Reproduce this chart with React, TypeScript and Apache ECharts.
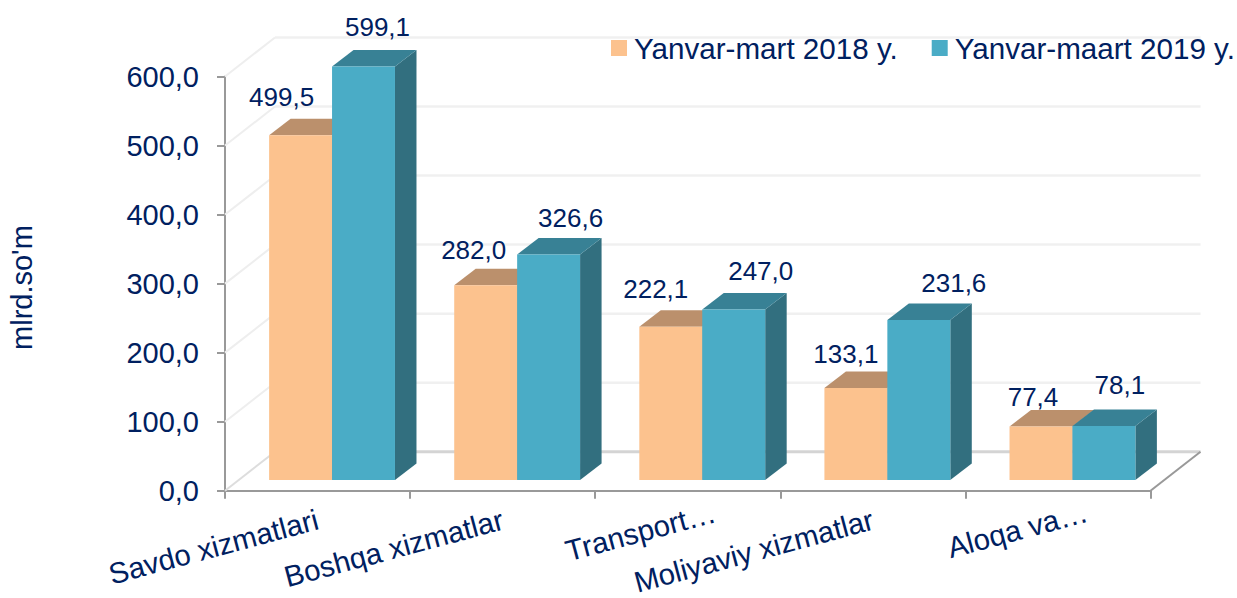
import React, { useEffect, useRef } from "react";
import * as echarts from "echarts";

const categories = ["Savdo xizmatlari", "Boshqa xizmatlar", "Transport…", "Moliyaviy xizmatlar", "Aloqa va…"];
const seriesNames = ["Yanvar-mart 2018 y.", "Yanvar-maart 2019 y."];
const values2018 = [499.5, 282.0, 222.1, 133.1, 77.4];
const values2019 = [599.1, 326.6, 247.0, 231.6, 78.1];
const axisTicks = [0, 100, 200, 300, 400, 500, 600];

const TEXT = "#002060";
const FONT = "Liberation Sans, Arial, sans-serif";
const fmt = (v: number) => v.toFixed(1).replace(".", ",");

const DEPTH_X = 50, DEPTH_Y = 39;
const BAR_DX = 21.5, BAR_DY = 16.5;
const BASE_DX = 14.5, BASE_DY = 10.7;

const labelOffsets = [
  [[-19, -38], [-12, -35], [-15, -38], [-10, -34], [-8, -30]],
  [[14, -39], [22, -37], [27, -38], [35, -37], [16, -41]],
];
const palettes = [
  { front: "#FCC28E", top: "#BB906C", side: "#BB906C" },
  { front: "#4AACC6", top: "#388195", side: "#326F7F" },
];
const labelPadRight: Record<number, number> = { 2: 98, 4: 84 };

function barRenderer(idx: number) {
  return (params: any, api: any) => {
    const cat = api.value(0);
    const val = api.value(1);
    const top = api.coord([cat, val]);
    const base = api.coord([cat, 0]);
    const w = api.size([1, 0])[0] * 0.34;
    const x0 = base[0] + BASE_DX + (idx === 0 ? -w : 0);
    const x1 = x0 + w;
    const yb = base[1] - BASE_DY;
    const yt = top[1] - BASE_DY;
    const p = palettes[idx];
    const off = labelOffsets[idx][params.dataIndex];
    const cx = (x0 + x1) / 2;
    return {
      type: "group",
      children: [
        { type: "polygon", shape: { points: [[x1, yt], [x1 + BAR_DX, yt - BAR_DY], [x1 + BAR_DX, yb - BAR_DY], [x1, yb]] }, style: { fill: p.side } },
        { type: "polygon", shape: { points: [[x0, yt], [x0 + BAR_DX, yt - BAR_DY], [x1 + BAR_DX, yt - BAR_DY], [x1, yt]] }, style: { fill: p.top } },
        { type: "rect", shape: { x: x0, y: yt, width: w, height: yb - yt }, style: { fill: p.front } },
        {
          type: "text",
          z2: 10,
          style: {
            text: fmt(val), x: cx + off[0], y: yt + off[1], fill: TEXT,
            fontSize: 26, fontFamily: FONT, align: "center", verticalAlign: "middle",
          },
        },
      ],
    };
  };
}

function wallRenderer(params: any, api: any) {
  const v = api.value(0);
  const cs = params.coordSys;
  const y = api.coord([0, v])[1];
  const left = cs.x;
  const right = cs.x + cs.width;
  const isFloor = v === 0;
  const children: any[] = [
    { type: "line", shape: { x1: left, y1: y, x2: left + DEPTH_X, y2: y - DEPTH_Y }, style: { stroke: isFloor ? "#DDDDDD" : "#EEEEEE", lineWidth: 2 } },
    { type: "line", shape: { x1: left + DEPTH_X, y1: y - DEPTH_Y, x2: right + DEPTH_X, y2: y - DEPTH_Y }, style: { stroke: isFloor ? "#D4D4D4" : "#F0F0F0", lineWidth: isFloor ? 3 : 2.5 } },
  ];
  if (isFloor) {
    children.push({ type: "line", shape: { x1: right, y1: y, x2: right + DEPTH_X, y2: y - DEPTH_Y }, style: { stroke: "#999999", lineWidth: 2 } });
  }
  return { type: "group", children };
}

export default function App() {
  const ref = useRef<HTMLDivElement>(null);
  useEffect(() => {
    const chart = echarts.init(ref.current!, undefined, { renderer: "svg" });
    chart.setOption({
      animation: false,
      backgroundColor: "#FFFFFF",
      grid: { left: 225, top: 76.5, width: 925.5, height: 414.2, outerBoundsMode: "none" },
      legend: {
        data: seriesNames,
        left: 611,
        top: 33,
        padding: 0,
        width: 626,
        icon: "rect",
        itemWidth: 16,
        itemHeight: 16,
        itemGap: 34,
        selectedMode: false,
        textStyle: { color: TEXT, fontSize: 29.6, fontFamily: FONT, padding: [0, 0, 0, 2] },
      },
      xAxis: {
        type: "category",
        data: categories.map((c, i) =>
          labelPadRight[i]
            ? { value: c, textStyle: { align: "center", padding: [0, labelPadRight[i], 0, 0] } }
            : c
        ),
        axisLine: { lineStyle: { color: "#999999", width: 2 } },
        axisTick: { show: true, length: 8, lineStyle: { color: "#999999", width: 2 } },
        axisLabel: { rotate: 15, interval: 0, margin: 28, color: TEXT, fontSize: 29.4, fontFamily: FONT },
      },
      yAxis: {
        type: "value",
        min: 0,
        max: 600,
        interval: 100,
        name: "mlrd.so'm",
        nameLocation: "middle",
        nameGap: 189,
        nameRotate: 90,
        nameTextStyle: { color: TEXT, fontSize: 29, fontFamily: FONT, padding: [0, 8, 0, 0] },
        axisLine: { show: true, lineStyle: { color: "#999999", width: 2 } },
        axisTick: { show: true, length: 8, lineStyle: { color: "#999999", width: 2 } },
        splitLine: { show: false },
        axisLabel: { formatter: (v: number) => fmt(v), margin: 26, color: TEXT, fontSize: 29, fontFamily: FONT },
      },
      series: [
        { type: "custom", name: "wall", silent: true, z: 1, clip: false, data: axisTicks.map((t) => [t]), encode: { y: 0 }, renderItem: wallRenderer },
        { type: "custom", name: seriesNames[0], z: 3, clip: false, itemStyle: { color: palettes[0].front }, data: values2018.map((v, i) => [i, v]), encode: { x: 0, y: 1 }, renderItem: barRenderer(0) },
        { type: "custom", name: seriesNames[1], z: 4, clip: false, itemStyle: { color: palettes[1].front }, data: values2019.map((v, i) => [i, v]), encode: { x: 0, y: 1 }, renderItem: barRenderer(1) },
      ],
    });
    return () => chart.dispose();
  }, []);
  return <div ref={ref} style={{ position: "absolute", left: 0, top: 0, width: 1237, height: 598 }} />;
}
